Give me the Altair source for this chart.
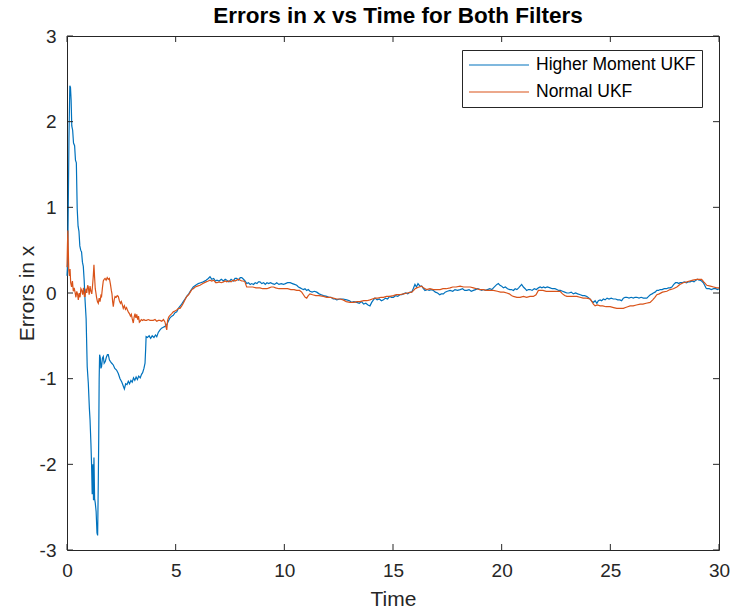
import altair as alt
import pandas as pd

# ---- series: Higher Moment UKF ----
t_hm = [0.00, 0.03, 0.06, 0.09, 0.13, 0.16, 0.19, 0.22, 0.26, 0.30, 0.35, 0.39, 0.43, 0.47, 0.51, 0.55,
        0.59, 0.63, 0.67, 0.71, 0.75, 0.79, 0.83, 0.88, 0.93, 0.98, 1.03, 1.06, 1.10, 1.13, 1.16, 1.19,
        1.22, 1.24, 1.27, 1.30, 1.34, 1.38, 1.41, 1.44, 1.46, 1.48, 1.50, 1.53, 1.56, 1.59, 1.63, 1.67,
        1.71, 1.76, 1.81, 1.86, 1.90, 1.95, 2.00, 2.06, 2.13, 2.20, 2.28, 2.36, 2.44, 2.52, 2.58, 2.64,
        2.70, 2.76, 2.82, 2.88, 2.94, 3.00, 3.06, 3.12, 3.18, 3.24, 3.30, 3.37, 3.43, 3.48, 3.54, 3.59,
        3.62, 3.64, 3.70, 3.78, 3.85, 3.92, 4.00, 4.07, 4.13, 4.20, 4.28, 4.35, 4.43, 4.51, 4.59, 4.66,
        4.74, 4.82, 4.89, 4.97, 5.05, 5.15, 5.25, 5.35, 5.43, 5.51, 5.60, 5.70, 5.81, 5.92, 6.04, 6.15,
        6.27, 6.40, 6.50, 6.58, 6.66, 6.75, 6.83, 6.90, 7.00, 7.10, 7.20, 7.28, 7.35, 7.45, 7.55, 7.65,
        7.73, 7.81, 7.90, 7.97, 8.04, 8.12, 8.20, 8.27, 8.35, 8.43, 8.50, 8.58, 8.66, 8.74, 8.81, 8.88,
        8.96, 9.05, 9.12, 9.20, 9.28, 9.36, 9.45, 9.55, 9.65, 9.75, 9.86, 9.96, 10.05, 10.15, 10.27, 10.37,
        10.47, 10.57, 10.65, 10.73, 10.80, 10.88, 10.95, 11.03, 11.10, 11.18, 11.28, 11.38, 11.49, 11.60,
        11.70, 11.80, 11.95, 12.05, 12.15, 12.25, 12.33, 12.41, 12.56, 12.70, 12.87, 13.00, 13.10, 13.20,
        13.33, 13.45, 13.55, 13.65, 13.75, 13.85, 13.94, 14.02, 14.10, 14.17, 14.27, 14.37, 14.47, 14.56,
        14.65, 14.75, 14.85, 14.93, 15.02, 15.12, 15.22, 15.32, 15.40, 15.48, 15.58, 15.68, 15.78, 15.86,
        15.93, 16.01, 16.08, 16.15, 16.24, 16.32, 16.40, 16.47, 16.57, 16.66, 16.76, 16.86, 16.95, 17.05,
        17.15, 17.22, 17.32, 17.40, 17.50, 17.63, 17.75, 17.85, 17.97, 18.09, 18.20, 18.30, 18.40, 18.50,
        18.60, 18.70, 18.80, 18.90, 19.00, 19.08, 19.16, 19.25, 19.35, 19.45, 19.55, 19.62, 19.70, 19.78,
        19.85, 19.92, 20.00, 20.08, 20.17, 20.27, 20.37, 20.45, 20.54, 20.62, 20.70, 20.78, 20.85, 20.92,
        21.00, 21.08, 21.15, 21.23, 21.31, 21.40, 21.50, 21.60, 21.69, 21.77, 21.85, 21.93, 22.00, 22.10,
        22.23, 22.33, 22.45, 22.54, 22.62, 22.70, 22.80, 22.90, 23.00, 23.10, 23.20, 23.30, 23.40, 23.50,
        23.62, 23.72, 23.82, 23.92, 24.02, 24.10, 24.16, 24.22, 24.30, 24.38, 24.45, 24.53, 24.60, 24.68,
        24.76, 24.85, 24.94, 25.04, 25.14, 25.24, 25.34, 25.44, 25.52, 25.60, 25.68, 25.76, 25.86, 25.96,
        26.06, 26.14, 26.22, 26.32, 26.42, 26.52, 26.60, 26.68, 26.76, 26.84, 26.92, 26.98, 27.06, 27.14,
        27.22, 27.29, 27.38, 27.48, 27.58, 27.67, 27.75, 27.83, 27.92, 28.00, 28.08, 28.15, 28.21, 28.30,
        28.40, 28.50, 28.58, 28.67, 28.76, 28.85, 28.94, 29.02, 29.08, 29.13, 29.20, 29.28, 29.34, 29.40,
        29.44, 29.55, 29.65, 29.75, 29.85, 29.93, 30.00]
e_hm = [0.20, 0.35, 1.05, 1.80, 2.42, 2.40, 2.25, 1.95, 1.90, 1.75, 1.72, 1.55, 1.52, 0.98, 0.78, 0.72,
        0.55, 0.50, 0.48, 0.36, 0.31, 0.15, -0.08, -0.30, -0.86, -1.05, -1.35, -1.48, -1.75, -2.00, -2.35, -2.00,
        -2.42, -1.92, -2.40, -2.45, -2.55, -2.80, -2.83, -2.20, -1.68, -1.00, -0.72, -0.75, -0.88, -0.86, -0.76, -0.74,
        -0.82, -0.80, -0.75, -0.72, -0.72, -0.78, -0.80, -0.82, -0.84, -0.88, -0.90, -0.94, -1.00, -1.04, -1.08, -1.12,
        -1.06, -1.07, -1.03, -1.06, -1.02, -1.04, -0.99, -1.02, -0.98, -1.01, -0.97, -0.99, -0.95, -0.93, -0.88, -0.82,
        -0.65, -0.51, -0.52, -0.50, -0.53, -0.50, -0.52, -0.49, -0.51, -0.46, -0.43, -0.41, -0.40, -0.39, -0.37, -0.33,
        -0.29, -0.27, -0.26, -0.23, -0.22, -0.17, -0.14, -0.10, -0.07, -0.04, -0.01, 0.03, 0.07, 0.09, 0.11, 0.12,
        0.13, 0.15, 0.17, 0.19, 0.16, 0.17, 0.14, 0.15, 0.14, 0.16, 0.14, 0.16, 0.15, 0.13, 0.16, 0.14,
        0.17, 0.17, 0.15, 0.18, 0.18, 0.16, 0.14, 0.11, 0.12, 0.10, 0.11, 0.10, 0.12, 0.11, 0.13, 0.13,
        0.11, 0.12, 0.10, 0.12, 0.11, 0.12, 0.11, 0.10, 0.12, 0.10, 0.11, 0.10, 0.11, 0.12, 0.12, 0.11,
        0.10, 0.09, 0.07, 0.06, 0.05, 0.04, 0.05, 0.03, 0.04, 0.02, 0.01, 0.02, 0.01, -0.01,
        -0.02, -0.03, -0.04, -0.05, -0.05, -0.07, -0.07, -0.08, -0.07, -0.07, -0.08, -0.09, -0.11, -0.10,
        -0.11, -0.12, -0.10, -0.13, -0.12, -0.14, -0.15, -0.11, -0.08, -0.06, -0.08, -0.07, -0.09, -0.08,
        -0.06, -0.07, -0.04, -0.05, -0.05, -0.03, -0.04, -0.02, -0.02, -0.01, 0.00, -0.01, 0.01, 0.01,
        0.05, 0.10, 0.07, 0.11, 0.08, 0.08, 0.05, 0.03, 0.04, 0.03, 0.04, 0.03, 0.01, 0.00,
        -0.02, -0.01, -0.01, 0.01, 0.02, 0.03, 0.02, 0.04, 0.03, 0.04, 0.05, 0.03, 0.03, 0.04,
        0.02, 0.03, 0.04, 0.05, 0.04, 0.03, 0.04, 0.03, 0.04, 0.05, 0.04, 0.06, 0.08, 0.10,
        0.11, 0.09, 0.08, 0.06, 0.07, 0.05, 0.04, 0.04, 0.03, 0.05, 0.04, 0.06, 0.08, 0.10,
        0.07, 0.05, 0.03, 0.04, 0.04, 0.03, 0.05, 0.04, 0.06, 0.07, 0.06, 0.07, 0.06, 0.07,
        0.06, 0.05, 0.05, 0.04, 0.03, 0.03, 0.02, 0.01, 0.00, 0.00, 0.01, -0.01, 0.00, -0.01,
        -0.02, -0.03, -0.03, -0.04, -0.06, -0.08, -0.10, -0.11, -0.09, -0.12, -0.09, -0.08, -0.09, -0.07,
        -0.08, -0.06, -0.07, -0.06, -0.07, -0.07, -0.08, -0.08, -0.09, -0.06, -0.05, -0.05, -0.06, -0.05,
        -0.06, -0.05, -0.05, -0.06, -0.05, -0.06, -0.06, -0.06, -0.04, -0.02, -0.01, 0.00, 0.01, 0.03,
        0.03, 0.04, 0.04, 0.05, 0.05, 0.06, 0.06, 0.07, 0.10, 0.12, 0.12, 0.11, 0.12, 0.12,
        0.13, 0.12, 0.13, 0.13, 0.14, 0.13, 0.15, 0.16, 0.15, 0.15, 0.14, 0.12, 0.09, 0.06,
        0.05, 0.05, 0.04, 0.05, 0.05, 0.04, 0.05]

# ---- series: Normal UKF ----
t_nu = [0.00, 0.02, 0.04, 0.06, 0.08, 0.11, 0.14, 0.17, 0.21, 0.25, 0.29, 0.33, 0.37, 0.41, 0.45, 0.49,
        0.52, 0.56, 0.60, 0.64, 0.68, 0.72, 0.76, 0.80, 0.83, 0.87, 0.91, 0.95, 0.98, 1.02, 1.06, 1.10,
        1.14, 1.18, 1.21, 1.24, 1.27, 1.30, 1.32, 1.36, 1.40, 1.44, 1.48, 1.52, 1.56, 1.59, 1.63, 1.67,
        1.71, 1.75, 1.80, 1.85, 1.90, 1.95, 2.00, 2.04, 2.07, 2.10, 2.13, 2.17, 2.21, 2.26, 2.31, 2.36,
        2.41, 2.46, 2.50, 2.55, 2.59, 2.64, 2.69, 2.74, 2.78, 2.82, 2.87, 2.92, 2.96, 3.00, 3.05, 3.09,
        3.13, 3.17, 3.21, 3.25, 3.29, 3.33, 3.37, 3.42, 3.48, 3.54, 3.59, 3.66, 3.74, 3.82, 3.90, 3.97,
        4.05, 4.13, 4.20, 4.28, 4.36, 4.44, 4.51, 4.56, 4.59, 4.63, 4.68, 4.74, 4.82, 4.89, 4.97, 5.05,
        5.12, 5.20, 5.28, 5.35, 5.43, 5.51, 5.60, 5.67, 5.74, 5.81, 5.90, 6.00, 6.12, 6.25, 6.40, 6.50,
        6.58, 6.66, 6.75, 6.84, 6.90, 7.00, 7.10, 7.20, 7.28, 7.35, 7.45, 7.55, 7.65, 7.73, 7.81, 7.90,
        7.97, 8.04, 8.12, 8.19, 8.24, 8.27, 8.40, 8.55, 8.70, 8.88, 9.00, 9.10, 9.20, 9.30, 9.40, 9.50,
        9.60, 9.75, 9.90, 10.00, 10.15, 10.30, 10.45, 10.57, 10.70, 10.80, 10.88, 10.96, 11.03, 11.10,
        11.18, 11.30, 11.45, 11.60, 11.80, 11.95, 12.10, 12.25, 12.41, 12.56, 12.70, 12.85, 13.02, 13.20,
        13.35, 13.48, 13.65, 13.80, 13.94, 14.05, 14.17, 14.30, 14.45, 14.56, 14.70, 14.85, 15.02, 15.15,
        15.30, 15.48, 15.65, 15.86, 15.95, 16.02, 16.09, 16.20, 16.32, 16.40, 16.48, 16.55, 16.70, 16.86,
        17.00, 17.17, 17.30, 17.45, 17.63, 17.75, 17.90, 18.09, 18.25, 18.40, 18.55, 18.70, 18.85, 19.00,
        19.15, 19.30, 19.45, 19.62, 19.80, 19.95, 20.10, 20.24, 20.35, 20.45, 20.54, 20.70, 20.85, 21.00,
        21.15, 21.30, 21.46, 21.58, 21.69, 21.77, 21.90, 22.05, 22.20, 22.35, 22.50, 22.69, 22.80, 22.90,
        23.00, 23.15, 23.30, 23.46, 23.60, 23.75, 23.90, 24.07, 24.15, 24.22, 24.30, 24.40, 24.53, 24.65,
        24.80, 24.99, 25.15, 25.30, 25.45, 25.60, 25.70, 25.80, 25.91, 26.05, 26.20, 26.37, 26.50, 26.65,
        26.83, 26.95, 27.05, 27.14, 27.25, 27.40, 27.60, 27.75, 27.90, 28.06, 28.20, 28.35, 28.52, 28.65,
        28.80, 28.98, 29.10, 29.20, 29.30, 29.44, 29.60, 29.75, 29.90, 30.00]
e_nu = [0.30, 0.55, 0.73, 0.50, 0.27, 0.20, 0.28, 0.12, 0.07, 0.14, 0.02, 0.06, 0.01, -0.05, 0.02, -0.02,
        -0.08, 0.00, -0.05, 0.05, 0.03, -0.02, 0.06, -0.04, -0.04, 0.05, 0.00, 0.09, 0.07, -0.02, 0.08, 0.02,
        -0.01, 0.10, 0.20, 0.33, 0.18, 0.05, 0.02, -0.05, -0.10, -0.12, -0.06, -0.10, -0.03, -0.04, 0.06, 0.14,
        0.16, 0.17, 0.15, 0.18, 0.16, 0.17, 0.10, 0.03, -0.01, -0.10, -0.16, -0.08, -0.04, -0.05, -0.03, -0.04,
        -0.09, -0.12, -0.10, -0.14, -0.18, -0.15, -0.19, -0.17, -0.20, -0.22, -0.24, -0.27, -0.25, -0.30, -0.35, -0.28,
        -0.24, -0.29, -0.25, -0.31, -0.27, -0.34, -0.33, -0.31, -0.32, -0.31, -0.32, -0.32, -0.31, -0.32, -0.32, -0.32,
        -0.31, -0.33, -0.32, -0.32, -0.33, -0.31, -0.34, -0.40, -0.43, -0.32, -0.28, -0.26, -0.24, -0.22, -0.21, -0.20,
        -0.18, -0.18, -0.15, -0.12, -0.08, -0.04, -0.02, 0.01, 0.04, 0.05, 0.07, 0.08, 0.09, 0.11, 0.13, 0.14,
        0.15, 0.14, 0.15, 0.12, 0.12, 0.13, 0.12, 0.13, 0.14, 0.13, 0.14, 0.13, 0.15, 0.14, 0.15, 0.16,
        0.15, 0.14, 0.14, 0.13, 0.09, 0.07, 0.07, 0.07, 0.06, 0.06, 0.05, 0.05, 0.05, 0.06, 0.07, 0.07,
        0.06, 0.05, 0.05, 0.05, 0.05, 0.04, 0.04, 0.03, 0.03, 0.01, -0.02, -0.05, -0.06, -0.03,
        -0.01, -0.02, -0.03, -0.03, -0.04, -0.05, -0.05, -0.06, -0.07, -0.07, -0.08, -0.10, -0.11, -0.11,
        -0.10, -0.10, -0.09, -0.09, -0.08, -0.07, -0.06, -0.06, -0.05, -0.05, -0.04, -0.04, -0.03, -0.02,
        -0.02, -0.01, 0.00, 0.01, 0.03, 0.05, 0.06, 0.07, 0.08, 0.06, 0.05, 0.04, 0.05, 0.04,
        0.04, 0.04, 0.05, 0.05, 0.06, 0.07, 0.07, 0.08, 0.07, 0.07, 0.07, 0.06, 0.05, 0.04,
        0.04, 0.03, 0.03, 0.03, 0.02, 0.01, 0.01, 0.00, -0.01, -0.03, -0.04, -0.05, -0.05, -0.04,
        -0.05, -0.04, -0.04, -0.02, 0.03, 0.03, 0.03, 0.02, 0.02, 0.02, 0.02, 0.02, -0.01, -0.03,
        -0.04, -0.04, -0.04, -0.04, -0.05, -0.06, -0.06, -0.07, -0.10, -0.13, -0.15, -0.14, -0.15, -0.15,
        -0.16, -0.16, -0.17, -0.18, -0.18, -0.18, -0.17, -0.16, -0.15, -0.15, -0.14, -0.13, -0.13, -0.12,
        -0.11, -0.08, -0.05, -0.02, -0.01, 0.01, 0.02, 0.04, 0.05, 0.07, 0.10, 0.12, 0.13, 0.14,
        0.15, 0.16, 0.16, 0.16, 0.13, 0.09, 0.08, 0.07, 0.06, 0.06]

series_names = ["Higher Moment UKF", "Normal UKF"]
series_colors = ["#0072BD", "#D95319"]

x_ticks = [0, 5, 10, 15, 20, 25, 30]
y_ticks = [-3, -2, -1, 0, 1, 2, 3]

W, H = 652, 514
FONT = "Liberation Sans"
AXIS_COLOR = "#262626"
TICK_LEN = 6

df = pd.concat([
    pd.DataFrame({"Time": t_hm, "Errors in x": e_hm, "Filter": series_names[0]}),
    pd.DataFrame({"Time": t_nu, "Errors in x": e_nu, "Filter": series_names[1]}),
], ignore_index=True)

# plain hyphen-minus in the tick labels
plain_label = "'' + datum.value"
x_axis = alt.Axis(values=x_ticks, title="Time", labelFlush=False, labelExpr=plain_label)
y_axis = alt.Axis(values=y_ticks, title="Errors in x", labelExpr=plain_label)
x_enc = alt.X("Time:Q", scale=alt.Scale(domain=[0, 30], nice=False, zero=False), axis=x_axis)
y_enc = alt.Y("Errors in x:Q", scale=alt.Scale(domain=[-3, 3], nice=False, zero=False), axis=y_axis)

lines = alt.Chart(df).mark_line(strokeWidth=1.2).encode(
    x=x_enc,
    y=y_enc,
    color=alt.Color(
        "Filter:N",
        scale=alt.Scale(domain=series_names, range=series_colors),
        sort=series_names,
        legend=alt.Legend(
            title=None,
            orient="none",
            legendX=395,
            legendY=14,
            symbolType="stroke",
            symbolSize=3600,
            symbolStrokeWidth=1.2,
            clipHeight=18,
            labelFont=FONT,
            labelFontSize=17.5,
            labelColor="#000000",
            labelOffset=6,
            labelLimit=400,
            rowPadding=9,
            padding=6,
            strokeColor=AXIS_COLOR,
            fillColor="white",
        ),
    ),
    order=alt.Order("Time:Q"),
)

# inward-pointing tick marks on all four sides of the box
xt = pd.DataFrame({"Time": x_ticks})
yt = pd.DataFrame({"Errors in x": y_ticks})
tick_style = dict(color=AXIS_COLOR, strokeWidth=1)

ticks_bottom = alt.Chart(xt).mark_rule(**tick_style).encode(
    x=x_enc, y=alt.value(H), y2=alt.value(H - TICK_LEN))
ticks_top = alt.Chart(xt).mark_rule(**tick_style).encode(
    x=x_enc, y=alt.value(0), y2=alt.value(TICK_LEN))
ticks_left = alt.Chart(yt).mark_rule(**tick_style).encode(
    y=y_enc, x=alt.value(0), x2=alt.value(TICK_LEN))
ticks_right = alt.Chart(yt).mark_rule(**tick_style).encode(
    y=y_enc, x=alt.value(W), x2=alt.value(W - TICK_LEN))

chart = alt.layer(lines, ticks_bottom, ticks_top, ticks_left, ticks_right).properties(
    width=W,
    height=H,
    padding={"left": 67, "top": 36, "right": 15, "bottom": 63},
    autosize=alt.AutoSizeParams(type="none"),
    title=alt.TitleParams(
        "Errors in x vs Time for Both Filters",
        font=FONT, fontSize=22.5, fontWeight="bold", color="#000000",
        anchor="middle", offset=0, dx=5,
    ),
).configure_view(
    stroke=AXIS_COLOR, strokeWidth=1,
).configure_axis(
    grid=False, ticks=False, tickSize=0, domain=False,
    labelFont=FONT, labelFontSize=19, labelColor=AXIS_COLOR, labelPadding=11,
    titleFont=FONT, titleFontSize=21, titleFontWeight="normal", titleColor=AXIS_COLOR,
).configure_axisX(
    titlePadding=8,
).configure_axisY(
    titlePadding=2,
)

chart.save("out.html", embed_options={"renderer": "svg", "actions": False})
